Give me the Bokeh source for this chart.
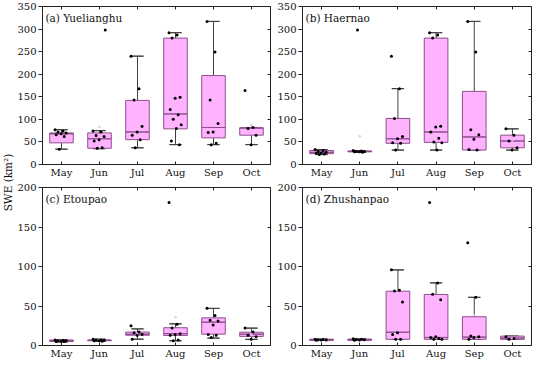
import numpy as np
from bokeh.plotting import figure
from bokeh.layouts import row, column
from bokeh.models import LinearAxis, CategoricalAxis, FixedTicker, Range1d, ColumnDataSource
from bokeh.core.properties import value
from bokeh.embed import file_html
from bokeh.resources import INLINE

months = ["May", "Jun", "Jul", "Aug", "Sep", "Oct"]

# ---- (a) Yuelianghu ----
a_q1 = [48, 36, 55, 79, 59, 65]
a_med = [68, 57, 72, 112, 82, 81]
a_q3 = [70, 70, 142, 280, 197, 81]
a_lo = [34, 35, 37, 44, 44, 44]
a_hi = [77, 75, 240, 292, 317, 82]
a_pts = [[77, 74, 72, 70, 68, 66, 62, 34],
         [74, 72, 64, 62, 55, 52, 37, 36, 298],
         [240, 168, 143, 84, 72, 65, 55, 37],
         [292, 287, 280, 149, 147, 122, 110, 100, 88, 80, 52, 44],
         [317, 249, 143, 91, 72, 71, 47, 44],
         [164, 82, 80, 65, 44]]

# ---- (b) Haernao ----
b_q1 = [24, 28, 47, 49, 32, 37]
b_med = [27, 29, 57, 72, 61, 52]
b_q3 = [31, 30, 102, 280, 162, 65]
b_lo = [22, 27, 32, 32, 32, 32]
b_hi = [33, 31, 168, 292, 317, 79]
b_pts = [[33, 31, 29, 27, 26, 25, 23, 22],
         [31, 30, 29, 29, 28, 28, 27, 298],
         [240, 168, 102, 62, 57, 48, 47, 32],
         [292, 287, 280, 85, 83, 72, 58, 50, 48, 32],
         [317, 249, 77, 66, 56, 33, 32],
         [79, 65, 52, 37, 32]]

# ---- (c) Etoupao ----
c_q1 = [5, 6, 13, 12.7, 14.3, 11.5]
c_med = [6, 6.5, 14.3, 15, 29.5, 14.3]
c_q3 = [7, 7, 17, 22.5, 35, 16.8]
c_lo = [4.5, 5.5, 8, 6, 9.4, 7.8]
c_hi = [7.5, 8, 21, 27.4, 47, 22]
c_pts = [[7, 6.5, 6, 6, 5.5, 5, 5],
         [8, 7, 7, 6.5, 6, 6, 5.5],
         [25, 17, 16, 14, 13, 8],
         [181, 27, 22, 15, 14, 13, 7, 6],
         [47, 38, 32, 31, 26, 14, 13, 10],
         [22, 17, 13, 11, 8]]

# ---- (d) Zhushanpao ----
d_q1 = [6.5, 6.5, 7.8, 7.8, 7.8, 7.8]
d_med = [7.2, 7.3, 16.8, 10.2, 10.6, 9.4]
d_q3 = [8, 8.2, 68.7, 64.6, 36.4, 11.9]
d_lo = [6.5, 6.5, 7.8, 7.8, 7.8, 7.8]
d_hi = [8, 8.5, 95.7, 79.3, 61, 11.9]
d_pts = [[8, 7.5, 7.2, 7, 7, 6.8],
         [8.5, 8, 7.5, 7.2, 7, 6.8],
         [96, 70, 69, 55, 16, 14, 8, 8],
         [181, 79, 65, 58, 11, 10, 9, 8, 8],
         [130, 61, 12, 11, 10, 8],
         [11, 9, 8]]

panels = [
    ("(a) Yuelianghu", a_q1, a_med, a_q3, a_lo, a_hi, a_pts, 350, 50),
    ("(b) Haernao", b_q1, b_med, b_q3, b_lo, b_hi, b_pts, 350, 50),
    ("(c) Etoupao", c_q1, c_med, c_q3, c_lo, c_hi, c_pts, 200, 50),
    ("(d) Zhushanpao", d_q1, d_med, d_q3, d_lo, d_hi, d_pts, 200, 50),
]

FONT = "DejaVu Serif"
BOX_FILL = "#FFB3FF"
BOX_LINE = "#8E4F8E"
WHISK = "#404040"


def make_panel(spec, left_border, right_border, top_border, bottom_border, frame_h):
    title, q1, med, q3, lo, hi, pts, ymax, step = spec
    p = figure(x_range=months, y_range=Range1d(0, ymax),
               width=left_border + 231 + right_border,
               height=top_border + frame_h + bottom_border,
               min_border_left=left_border, min_border_right=right_border,
               min_border_top=top_border, min_border_bottom=bottom_border,
               output_backend="svg", toolbar_location=None)
    p.x_range.range_padding = 0
    p.grid.visible = False
    p.outline_line_color = "#222222"
    p.outline_line_width = 1
    p.background_fill_color = "white"
    p.border_fill_color = "white"

    src = ColumnDataSource(dict(x=months, q1=q1, q3=q3, med=med, lo=lo, hi=hi))
    p.segment(x0="x", y0="q3", x1="x", y1="hi", source=src, line_color=WHISK, line_width=1)
    p.segment(x0="x", y0="lo", x1="x", y1="q1", source=src, line_color=WHISK, line_width=1)
    p.rect(x="x", y="hi", width=0.32, height=0.01, source=src,
           line_color=WHISK, fill_color=None, height_units="screen", line_width=1)
    p.rect(x="x", y="lo", width=0.32, height=0.01, source=src,
           line_color=WHISK, fill_color=None, height_units="screen", line_width=1)
    p.vbar(x="x", bottom="q1", top="q3", width=0.62, source=src,
           fill_color=BOX_FILL, line_color=BOX_LINE, line_width=1)
    p.rect(x="x", y="med", width=0.62, height=0.01, source=src, height_units="screen",
           line_color=BOX_LINE, fill_color=None, line_width=1)

    means = [float(np.mean(v)) for v in pts]
    p.scatter(x=months, y=means, size=2.5, fill_color="#F0B8F0", line_color=None, alpha=0.9)
    xs, ys = [], []
    for m, vals in zip(months, pts):
        for i, v in enumerate(vals):
            off = (((i * 0.618) % 1.0) - 0.5) * 0.34
            xs.append((m, off))
            ys.append(v)
    p.scatter(x=xs, y=ys, size=3, fill_color="black", line_color=None)

    ticks = list(range(0, ymax + 1, step))
    p.yaxis.ticker = FixedTicker(ticks=ticks)
    for ax in p.yaxis + p.xaxis:
        ax.axis_line_color = "#222222"
        ax.major_tick_line_color = "#222222"
        ax.minor_tick_line_color = None
        ax.major_label_text_font = FONT
        ax.major_label_text_font_size = "10px"
        ax.major_label_text_color = "#111111"
        ax.major_label_standoff = 2
    p.yaxis.major_tick_out = 4
    p.yaxis.major_tick_in = 0
    p.xaxis.major_tick_out = 0
    p.xaxis.major_tick_in = 3

    ra = LinearAxis(ticker=FixedTicker(ticks=ticks), major_tick_in=3, major_tick_out=0,
                    major_label_text_font_size="0px", axis_line_color=None,
                    major_tick_line_color="#222222", minor_tick_line_color=None)
    p.add_layout(ra, "right")
    ta = CategoricalAxis(major_tick_in=3, major_tick_out=0, major_label_text_font_size="0px",
                         axis_line_color=None, major_tick_line_color="#222222")
    p.add_layout(ta, "above")
    ra.major_label_text_color = None
    ta.major_label_text_color = None
    ra.major_label_standoff = 0
    ta.major_label_standoff = 0

    p.text(x=[months[0]], y=[ymax], text=[title], x_offset=-16, y_offset=5,
           text_font=value(FONT), text_font_size="10.5px", text_baseline="top",
           text_align="left", text_color="#111111")
    return p


FH = 158
pa = make_panel(panels[0], 25, 4, 6, 17, FH)
pb = make_panel(panels[1], 26, 3, 6, 17, FH)
pc = make_panel(panels[2], 25, 4, 6, 18, FH)
pd = make_panel(panels[3], 26, 3, 6, 18, FH)

lab = figure(width=14, height=363, x_range=Range1d(0, 1), y_range=Range1d(0, 363),
             min_border=0, output_backend="svg", toolbar_location=None)
lab.axis.visible = False
lab.grid.visible = False
lab.outline_line_color = None
lab.text(x=[0.5], y=[181], text=["SWE (km\u00b2)"], angle=np.pi / 2,
         text_align="center", text_baseline="middle",
         text_font=value(FONT), text_font_size="10.5px", text_color="#111111")

layout = row(lab, column(row(pa, pb), row(pc, pd)))

open("out.html", "w").write(file_html(layout, INLINE))
